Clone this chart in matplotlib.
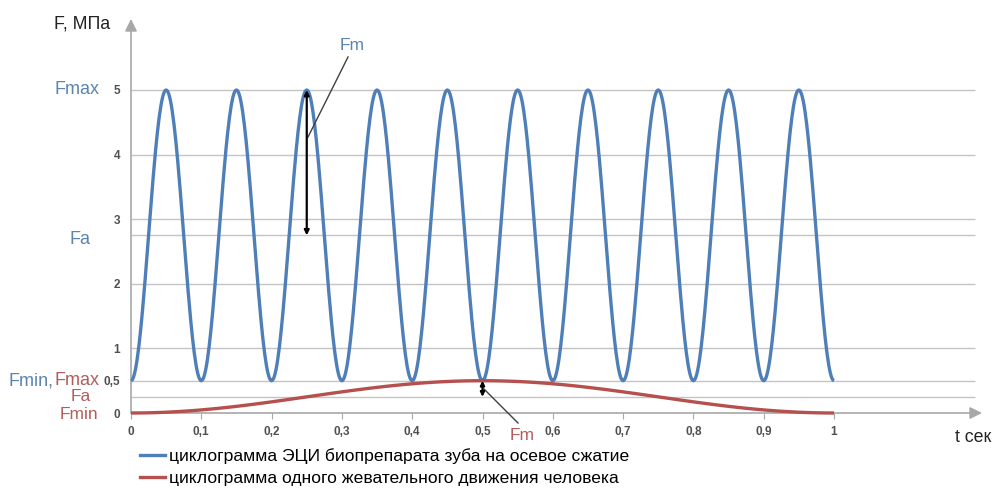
import numpy as np
import matplotlib
matplotlib.use("Agg")
import matplotlib.pyplot as plt
from matplotlib.lines import Line2D

# точки экстремумов (t, сек / F, МПа)
blue_t = [0.0, 0.05, 0.1, 0.15, 0.2, 0.25, 0.3, 0.35, 0.4, 0.45, 0.5,
          0.55, 0.6, 0.65, 0.7, 0.75, 0.8, 0.85, 0.9, 0.95, 1.0]
blue_f = [0.5, 5, 0.5, 5, 0.5, 5, 0.5, 5, 0.5, 5, 0.5,
          5, 0.5, 5, 0.5, 5, 0.5, 5, 0.5, 5, 0.5]
red_t = [0.0, 0.5, 1.0]
red_f = [0.0, 0.5, 0.0]

blue_fa = 2.75
red_fa = 0.25
grid_levels = [0.25, 0.5, 1, 2, 2.75, 3, 4, 5]
yticks = [0, 0.5, 1, 2, 3, 4, 5]
ytick_labels = ["0", "0,5", "1", "2", "3", "4", "5"]
xticks = [0, 0.1, 0.2, 0.3, 0.4, 0.5, 0.6, 0.7, 0.8, 0.9, 1.0]
xtick_labels = ["0", "0,1", "0,2", "0,3", "0,4", "0,5", "0,6", "0,7", "0,8", "0,9", "1"]

legend_labels = ["циклограмма ЭЦИ биопрепарата зуба на осевое сжатие",
                 "циклограмма одного жевательного движения человека"]

BLUE = "#4f7fb8"
RED = "#b5504e"
BLUE_TXT = "#5b84b1"
RED_TXT = "#b35c5c"
GRID = "#c4c4c4"
AXC = "#a8a8a8"
TICKC = "#505050"

plt.rcParams['font.family'] = ['Liberation Sans', 'DejaVu Sans']


def smooth(ts, fs, n=40):
    # сглаженная линия между соседними точками (как "сглаженная линия" в Excel)
    xs, ys = [], []
    for i in range(len(ts) - 1):
        s = np.linspace(0, 1, n, endpoint=False)
        w = (1 - np.cos(np.pi * s)) / 2
        xs.append(ts[i] + (ts[i + 1] - ts[i]) * s)
        ys.append(fs[i] + (fs[i + 1] - fs[i]) * w)
    xs.append([ts[-1]])
    ys.append([fs[-1]])
    return np.concatenate(xs), np.concatenate(ys)


W, H = 993, 490
fig = plt.figure(figsize=(W / 100, H / 100), dpi=100)
x0px, x1px = 131, 834
y0px, y5px = 413, 90
ppx = (x1px - x0px) / 1.0
ppy = (y0px - y5px) / 5.0
right_px, top_px = 982, 18
ax = fig.add_axes([x0px / W, (H - y0px) / H, (right_px - x0px) / W, (y0px - top_px) / H])
ax.set_xlim(0, (right_px - x0px) / ppx)
ax.set_ylim(0, (y0px - top_px) / ppy)
for sp in ax.spines.values():
    sp.set_visible(False)


def px(x):
    return (x - x0px) / ppx


def py(y):
    return (y0px - y) / ppy


# сетка
x_grid_end = px(975)
ax.hlines(grid_levels, 0, x_grid_end, color=GRID, lw=1.0, zorder=1)

# оси со стрелками
ax.annotate("", xy=(px(982), 0), xytext=(0, 0),
            arrowprops=dict(arrowstyle="-|>", color=AXC, lw=1.2, mutation_scale=18,
                            shrinkA=0, shrinkB=0), annotation_clip=False, zorder=2)
ax.annotate("", xy=(0, py(top_px + 1)), xytext=(0, 0),
            arrowprops=dict(arrowstyle="-|>", color=AXC, lw=1.2, mutation_scale=18,
                            shrinkA=0, shrinkB=0), annotation_clip=False, zorder=2)

# тики
ax.set_yticks(yticks)
ax.set_yticklabels(ytick_labels)
ax.set_xticks(xticks)
ax.set_xticklabels(xtick_labels)
ax.tick_params(axis="y", length=0, pad=8, labelsize=8.5, labelcolor=TICKC)
ax.tick_params(axis="x", length=4, width=0.8, color=AXC, pad=5, labelsize=8.5, labelcolor=TICKC)
for lab in ax.get_xticklabels() + ax.get_yticklabels():
    lab.set_fontweight("bold")

# кривые
bx, by = smooth(blue_t, blue_f)
rx, ry = smooth(red_t, red_f)
ax.plot(bx, by, color=BLUE, lw=2.4, zorder=4, clip_on=False, solid_capstyle="butt")
ax.plot(rx, ry, color=RED, lw=2.4, zorder=4, clip_on=False, solid_capstyle="butt")

# размахи Fm
ax.annotate("", xy=(0.25, 5), xytext=(0.25, blue_fa),
            arrowprops=dict(arrowstyle="<|-|>", color="black", lw=1.6, mutation_scale=7,
                            shrinkA=0, shrinkB=0), zorder=6)
ax.annotate("", xy=(0.5, 0.5), xytext=(0.5, red_fa),
            arrowprops=dict(arrowstyle="<|-|>", color="black", lw=1.6, mutation_scale=6,
                            shrinkA=0, shrinkB=0), zorder=6)
ax.plot([px(348), px(308)], [py(57), py(137)], color="#404040", lw=1.0, zorder=5)
ax.plot([px(484), px(518)], [py(389), py(423)], color="#404040", lw=1.0, zorder=5,
        clip_on=False)
ax.text(px(352), py(46), "Fm", color=BLUE_TXT, fontsize=12.5, ha="center", va="center")
ax.text(px(522), py(435), "Fm", color=RED_TXT, fontsize=12.5, ha="center", va="center",
        clip_on=False)

# подписи уровней слева
lbl = dict(fontsize=13, va="center", clip_on=False)
ax.text(px(100), 5, "Fmax", color=BLUE_TXT, ha="right", **lbl)
ax.text(px(80), py(239), "Fa", color=BLUE_TXT, ha="center", **lbl)
ax.text(px(54), 0.5, "Fmin,", color=BLUE_TXT, ha="right", **lbl)
ax.text(px(100), 0.5, "Fmax", color=RED_TXT, ha="right", **lbl)
ax.text(px(81), py(396.5), "Fa", color=RED_TXT, ha="center", fontsize=12.5, va="center",
        clip_on=False)
ax.text(px(98), py(414.5), "Fmin", color=RED_TXT, ha="right", fontsize=12.5, va="center",
        clip_on=False)

# названия осей
fig.text(54 / W, 1 - 24 / H, "F, МПа", fontsize=12.8, ha="left", va="center", color="#222222")
fig.text(955 / W, 1 - 437 / H, "t сек", fontsize=12.8, ha="left", va="center", color="#222222")

# легенда
handles = [Line2D([0], [0], color=BLUE, lw=2.4), Line2D([0], [0], color=RED, lw=2.4)]
fig.legend(handles, legend_labels, loc="upper left", bbox_to_anchor=(140 / W, 1 - 448 / H),
           frameon=False, fontsize=12.6, handlelength=1.45, handletextpad=0.2,
           labelspacing=0.38, borderaxespad=0, borderpad=0)

fig.savefig("out.png", dpi=100)
